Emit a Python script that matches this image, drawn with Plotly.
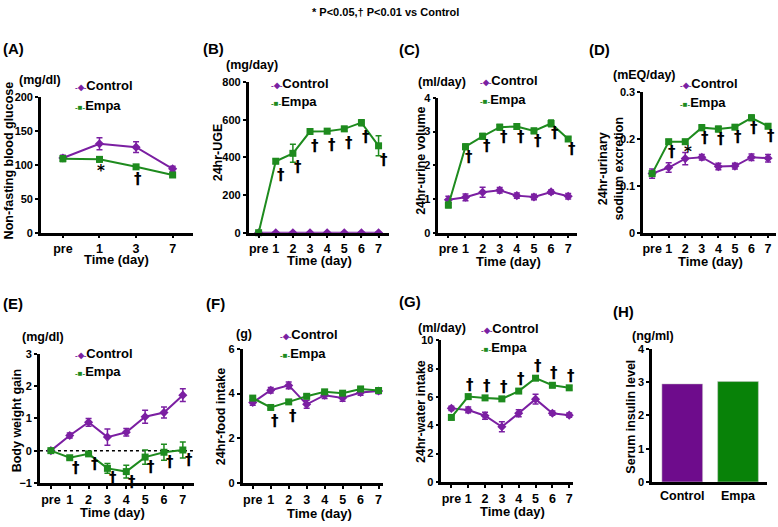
import plotly.graph_objects as go

W, H = 778, 527
PURPLE = "#7B1FA2"
GREEN = "#1E8B1E"
PURPLE_BAR = "#6E0C8C"
GREEN_BAR = "#088208"
FONT = "Liberation Sans, Arial, Helvetica, sans-serif"

days8 = ["pre", "1", "2", "3", "4", "5", "6", "7"]
days_a = ["pre", "1", "3", "7"]

# (A) non-fasting blood glucose (mg/dl)
glu_ctrl = [110, 131, 126, 94]
glu_ctrl_err = [4, 9, 8, 4]
glu_empa = [109, 108, 97, 85]
glu_empa_err = [4, 4, 3, 3]

# (B) 24hr-UGE (mg/day)
uge_ctrl = [0, 0, 0, 0, 0, 0, 0, 0]
uge_ctrl_err = [2, 2, 2, 2, 2, 2, 2, 2]
uge_empa = [0, 380, 422, 538, 540, 552, 585, 462]
uge_empa_err = [4, 12, 48, 15, 12, 12, 16, 53]

# (C) 24hr-urine volume (ml/day)
urine_ctrl = [0.98, 1.05, 1.20, 1.26, 1.10, 1.06, 1.21, 1.08]
urine_ctrl_err = [0.10, 0.10, 0.15, 0.08, 0.08, 0.08, 0.06, 0.08]
urine_empa = [0.82, 2.55, 2.86, 3.13, 3.15, 3.02, 3.24, 2.78]
urine_empa_err = [0.08, 0.08, 0.08, 0.08, 0.08, 0.08, 0.10, 0.05]

# (D) 24hr-urinary sodium excretion (mEQ/day)
na_ctrl = [0.126, 0.139, 0.158, 0.161, 0.141, 0.142, 0.161, 0.159]
na_ctrl_err = [0.010, 0.010, 0.013, 0.006, 0.007, 0.006, 0.007, 0.008]
na_empa = [0.126, 0.194, 0.194, 0.224, 0.221, 0.225, 0.245, 0.227]
na_empa_err = [0.005, 0.005, 0.005, 0.006, 0.006, 0.004, 0.006, 0.005]

# (E) body weight gain
bw_ctrl = [0, 0.47, 0.88, 0.42, 0.57, 1.05, 1.18, 1.72]
bw_ctrl_err = [0.02, 0.08, 0.12, 0.25, 0.12, 0.20, 0.17, 0.20]
bw_empa = [0, -0.22, -0.10, -0.55, -0.65, -0.20, -0.05, 0.02]
bw_empa_err = [0.02, 0.05, 0.05, 0.15, 0.20, 0.22, 0.25, 0.25]

# (F) 24hr-food intake (g)
food_ctrl = [3.60, 4.15, 4.37, 3.52, 3.93, 3.81, 4.05, 4.12]
food_ctrl_err = [0.12, 0.12, 0.15, 0.18, 0.15, 0.15, 0.12, 0.12]
food_empa = [3.80, 3.38, 3.63, 3.88, 4.08, 4.02, 4.21, 4.14]
food_empa_err = [0.07, 0.07, 0.07, 0.07, 0.07, 0.07, 0.07, 0.07]

# (G) 24hr-water intake (ml/day)
water_ctrl = [5.19, 5.08, 4.67, 3.89, 4.85, 5.84, 4.85, 4.71]
water_ctrl_err = [0.15, 0.20, 0.25, 0.35, 0.25, 0.35, 0.15, 0.15]
water_empa = [4.55, 6.02, 5.93, 5.86, 6.41, 7.32, 6.82, 6.64]
water_empa_err = [0.15, 0.15, 0.15, 0.15, 0.15, 0.15, 0.15, 0.15]

# (H) serum insulin (ng/ml)
groups = ["Control", "Empa"]
insulin = [2.95, 3.02]

D = "\u2020"
sig_a = [(1, "*"), (2, D)]
sig_b = [(i, D) for i in range(1, 8)]
sig_d = [(1, D), (2, "*"), (3, D), (4, D), (5, D), (6, D), (7, D)]
sig_f = [(1, D), (2, D)]

# panel layout in pixels: x0, x1, y_top, y_bottom
panels = [
    dict(tag="(A)", px=(40, 192, 93, 232), xr=[-0.6, 3.55], cats=days_a,
         yr=[0, 200], yt=[0, 50, 100, 150, 200],
         ctrl=(glu_ctrl, glu_ctrl_err), empa=(glu_empa, glu_empa_err),
         sig=sig_a, shift=(2, -12),
         ytitle="Non-fasting blood glucose", ytpos=(8, 158), unit="(mg/dl)", upos=(39, 76),
         tagpos=(0, 43), leg=(72, 81, 102), xt=(116, 258)),
    dict(tag="(B)", px=(248, 388, 78, 232), xr=[-0.58, 7.58], cats=days8,
         yr=[0, 800], yt=[0, 200, 400, 600, 800],
         ctrl=(uge_ctrl, uge_ctrl_err), empa=(uge_empa, uge_empa_err),
         sig=sig_b, shift=(5, -14),
         ytitle="24hr-UGE", ytpos=(217, 150), unit="(mg/day)", upos=(251, 60),
         tagpos=(200, 43), leg=(268, 79, 98), xt=(319, 259)),
    dict(tag="(C)", px=(438, 577, 94, 232), xr=[-0.58, 7.53], cats=days8,
         yr=[0, 4], yt=[0, 1, 2, 3, 4],
         ctrl=(urine_ctrl, urine_ctrl_err), empa=(urine_empa, urine_empa_err),
         sig=sig_b, shift=(4, -10),
         ytitle="24hr-urine volume", ytpos=(421, 158), unit="(ml/day)", upos=(442, 78),
         tagpos=(397, 45), leg=(478, 76, 96), xt=(508, 260)),
    dict(tag="(D)", px=(643, 776, 88, 232), xr=[-0.54, 7.48], cats=days8,
         yr=[0, 0.3], yt=[0, 0.1, 0.2, 0.3],
         ctrl=(na_ctrl, na_ctrl_err), empa=(na_empa, na_empa_err),
         sig=sig_d, shift=(3, -10),
         ytitle="24hr-urinary<br>sodium excretion", ytpos=(611, 166), unit="(mEQ/day)",
         upos=(644, 71), tagpos=(587, 45), leg=(678, 79, 99), xt=(710, 260)),
    dict(tag="(E)", px=(39, 193, 356, 488), xr=[-0.58, 7.58], cats=days8,
         yr=[-1, 3], yt=[-1, 0, 1, 2, 3],
         ctrl=(bw_ctrl, bw_ctrl_err), empa=(bw_empa, bw_empa_err),
         sig=sig_b, shift=(6, -10),
         ytitle="Body weight gain", ytpos=(16, 424), unit="(mg/dl)", upos=(42, 339),
         tagpos=(0, 304), leg=(72, 356, 374), xt=(112, 517)),
    dict(tag="(F)", px=(242, 382, 351, 488), xr=[-0.56, 7.22], cats=days8,
         yr=[0, 6], yt=[0, 2, 4, 6],
         ctrl=(food_ctrl, food_ctrl_err), empa=(food_empa, food_empa_err),
         sig=sig_f, shift=(4, -14),
         ytitle="24hr-food intake", ytpos=(221, 420), unit="(g)", upos=(243, 336),
         tagpos=(203, 304), leg=(277, 336, 356), xt=(319, 518)),
    dict(tag="(G)", px=(441, 573, 342, 487), xr=[-0.59, 7.24], cats=days8,
         yr=[0, 10], yt=[0, 2, 4, 6, 8, 10],
         ctrl=(water_ctrl, water_ctrl_err), empa=(water_empa, water_empa_err),
         sig=sig_b, shift=(2, 12),
         ytitle="24hr-water intake", ytpos=(420, 415), unit="(ml/day)", upos=(442, 330),
         tagpos=(397, 302), leg=(479, 330, 349), xt=(512, 516)),
]


def bold(size, family=FONT):
    return dict(family=family, size=size, color="black", weight="bold")


def fx(px):
    return px / W


def fy(py):
    return 1 - py / H


fig = go.Figure()
annotations = []
layout_axes = {}


def text(t, x, y, size, xanchor="center", yanchor="middle", angle=0):
    annotations.append(dict(text=t, x=fx(x), y=fy(y), xref="paper", yref="paper",
                            showarrow=False, xanchor=xanchor, yanchor=yanchor,
                            textangle=angle, font=bold(size)))


def axis_style():
    return dict(showline=True, linewidth=2.5, linecolor="black", mirror=False,
                ticks="outside", ticklen=3, tickwidth=2, tickcolor="black",
                showgrid=False, zeroline=False)


for k, p in enumerate(panels, start=1):
    sx = "" if k == 1 else str(k)
    x0, x1, yt, yb = p["px"]
    idx = list(range(len(p["cats"])))
    layout_axes["xaxis" + sx] = dict(
        domain=[fx(x0), fx(x1)], anchor="y" + sx, range=p["xr"],
        tickvals=idx, ticktext=p["cats"], tickfont=bold(12.5), **axis_style())
    layout_axes["yaxis" + sx] = dict(
        domain=[fy(yb), fy(yt)], anchor="x" + sx, range=p["yr"],
        tickvals=p["yt"], tickfont=bold(11), **axis_style())

    for (vals, errs), color, sym in ((p["ctrl"], PURPLE, "diamond"),
                                     (p["empa"], GREEN, "square")):
        fig.add_trace(go.Scatter(
            x=idx, y=vals, mode="lines+markers", xaxis="x" + sx, yaxis="y" + sx,
            line=dict(color=color, width=2), cliponaxis=False,
            marker=dict(symbol=sym, size=7, color=color),
            error_y=dict(type="data", array=errs, color=color, thickness=1.5, width=3),
            showlegend=False))

    vals, errs = p["empa"]
    dx, dy = p["shift"]
    for i, s in p["sig"]:
        annotations.append(dict(text=s, x=i, y=vals[i], xref="x" + sx, yref="y" + sx,
                                showarrow=False, xshift=dx, yshift=dy,
                                font=bold(15, "DejaVu Sans")))

    text(p["tag"], p["tagpos"][0], p["tagpos"][1], 15, xanchor="left")
    text(p["ytitle"], p["ytpos"][0], p["ytpos"][1], 12.5, angle=-90)
    text(p["unit"], p["upos"][0], p["upos"][1], 12.5)
    text("Time (day)", p["xt"][0], p["xt"][1] + 1, 13)
    lx, ly1, ly2 = p["leg"]
    text(f"<span style='color:{PURPLE};font-size:8px'>-\u25c6-</span>Control",
         lx, ly1, 13, xanchor="left")
    text(f"<span style='color:{GREEN};font-size:8px'>-\u25a0-</span>Empa",
         lx, ly2, 13, xanchor="left")

# (H) bar panel
fig.add_trace(go.Bar(x=groups, y=insulin, width=0.73, xaxis="x8", yaxis="y8",
                     marker=dict(color=[PURPLE_BAR, GREEN_BAR],
                                 line=dict(color="#c8c8c8", width=0.5)),
                     showlegend=False))
hs = axis_style()
layout_axes["xaxis8"] = dict(domain=[fx(652), fx(767)], anchor="y8", range=[-0.54, 1.52],
                             tickfont=bold(12.5), **{**hs, "ticks": ""})
layout_axes["yaxis8"] = dict(domain=[fy(487), fy(351)], anchor="x8", range=[0, 4],
                             tickvals=[0, 1, 2, 3, 4], tickfont=bold(11), **hs)
text("(H)", 611, 313, 15, xanchor="left")
text("Serum insulin level", 631, 420, 12.5, angle=-90)
text("(ng/ml)", 653, 338, 12.5)

text("* P&lt;0.05,\u2020 P&lt;0.01 vs Control", 385, 6, 11)

fig.update_layout(
    width=W, height=H, autosize=False,
    margin=dict(l=0, r=0, t=0, b=0),
    paper_bgcolor="white", plot_bgcolor="white",
    font=bold(12), annotations=annotations,
    shapes=[dict(type="line", xref="x5 domain", yref="y5", x0=0, x1=1, y0=0, y1=0,
                 line=dict(color="black", width=1.5, dash="dot"), layer="below")],
    **layout_axes)

fig.write_html("out.html", config={"displayModeBar": False},
               post_script="document.body.style.margin='0';document.body.style.padding='0';")
